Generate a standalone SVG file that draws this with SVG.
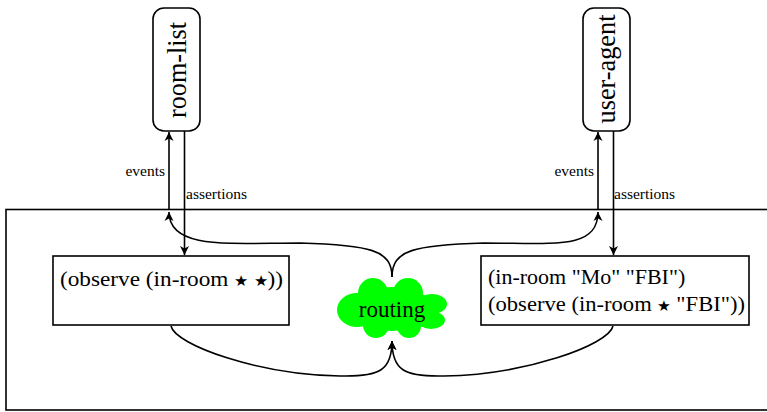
<svg xmlns="http://www.w3.org/2000/svg" width="767" height="412" viewBox="0 0 767 412">
<style>
.box{fill:#fff;stroke:#000;stroke-width:1.6}
.frame{fill:none;stroke:#000;stroke-width:1.6}
.ln{fill:none;stroke:#000;stroke-width:1.6}
.big{font-family:"Liberation Serif","DejaVu Serif",serif;font-size:22px;fill:#000}
.vert{font-family:"Liberation Serif","DejaVu Serif",serif;font-size:27px;fill:#000}
.lab{font-family:"Liberation Serif","DejaVu Serif",serif;font-size:15.5px;fill:#000}
.star{font-size:15px}
.cloud{fill:#00ff00}
</style>
<defs>
<marker id="ah" viewBox="-10 -6 12 12" refX="0" refY="0" markerWidth="12" markerHeight="12" markerUnits="userSpaceOnUse" orient="auto">
<path d="M0,0 L-9,-4.5 L-6.5,0 L-9,4.5 Z" fill="#000"/>
</marker>
</defs>
<rect id="frame" class="frame" x="6" y="209.5" width="770" height="200.5"/>
<g id="room-list">
<rect class="box" x="153" y="8" width="47" height="123" rx="11"/>
<text class="vert" text-anchor="middle" transform="translate(185.5,70) rotate(-90)" textLength="96" lengthAdjust="spacingAndGlyphs">room-list</text>
</g>
<g id="user-agent">
<rect class="box" x="583" y="8" width="47" height="123" rx="11"/>
<text class="vert" text-anchor="middle" transform="translate(614.5,69) rotate(-90)" textLength="109" lengthAdjust="spacingAndGlyphs">user-agent</text>
</g>
<g id="left-node">
<rect class="box" x="53" y="256" width="236" height="69"/>
<text class="big" x="60" y="286" textLength="223" lengthAdjust="spacingAndGlyphs">(observe (in-room <tspan class="star">★</tspan> <tspan class="star">★</tspan>))</text>
</g>
<g id="right-node">
<rect class="box" x="481" y="256" width="268" height="69"/>
<text class="big" x="488" y="284">(in-room "Mo" "FBI")</text>
<text class="big" x="488" y="311" textLength="257" lengthAdjust="spacingAndGlyphs">(observe (in-room <tspan class="star">★</tspan> "FBI"))</text>
</g>
<g id="routing">
<ellipse class="cloud" cx="392" cy="309" rx="42" ry="22"/>
<circle class="cloud" cx="373" cy="293" r="15"/>
<circle class="cloud" cx="408" cy="293" r="15"/>
<ellipse class="cloud" cx="357" cy="310" rx="20" ry="17"/>
<ellipse class="cloud" cx="432" cy="304" rx="15" ry="10"/>
<ellipse class="cloud" cx="431" cy="320" rx="14" ry="9"/>
<circle class="cloud" cx="376" cy="325" r="13"/>
<circle class="cloud" cx="409" cy="326" r="12"/>
<text class="big" x="392" y="317" text-anchor="middle" style="font-size:23px">routing</text>
</g>
<g id="connectors">
<path class="ln" d="M169,210 L169,132" marker-end="url(#ah)"/>
<path class="ln" d="M184.5,131 L184.5,255" marker-end="url(#ah)"/>
<path class="ln" d="M598,210 L598,132" marker-end="url(#ah)"/>
<path class="ln" d="M613.5,131 L613.5,255" marker-end="url(#ah)"/>
<path class="ln" d="M392,277 C392,250 370,245 300,243 C230,243 169,250 169,212" marker-end="url(#ah)"/>
<path class="ln" d="M392,277 C392,250 414,245 484,243 C554,243 598,250 598,212" marker-end="url(#ah)"/>
<path class="ln" d="M171,326 C175,345 260,375 340,376 C380,377 392,370 392,341" marker-end="url(#ah)"/>
<path class="ln" d="M613,326 C609,345 524,375 444,376 C404,377 392,370 392,341" marker-end="url(#ah)"/>
<text class="lab" x="165" y="176" text-anchor="end">events</text>
<text class="lab" x="186" y="199">assertions</text>
<text class="lab" x="594" y="176" text-anchor="end">events</text>
<text class="lab" x="614" y="199">assertions</text>
</g>
</svg>
